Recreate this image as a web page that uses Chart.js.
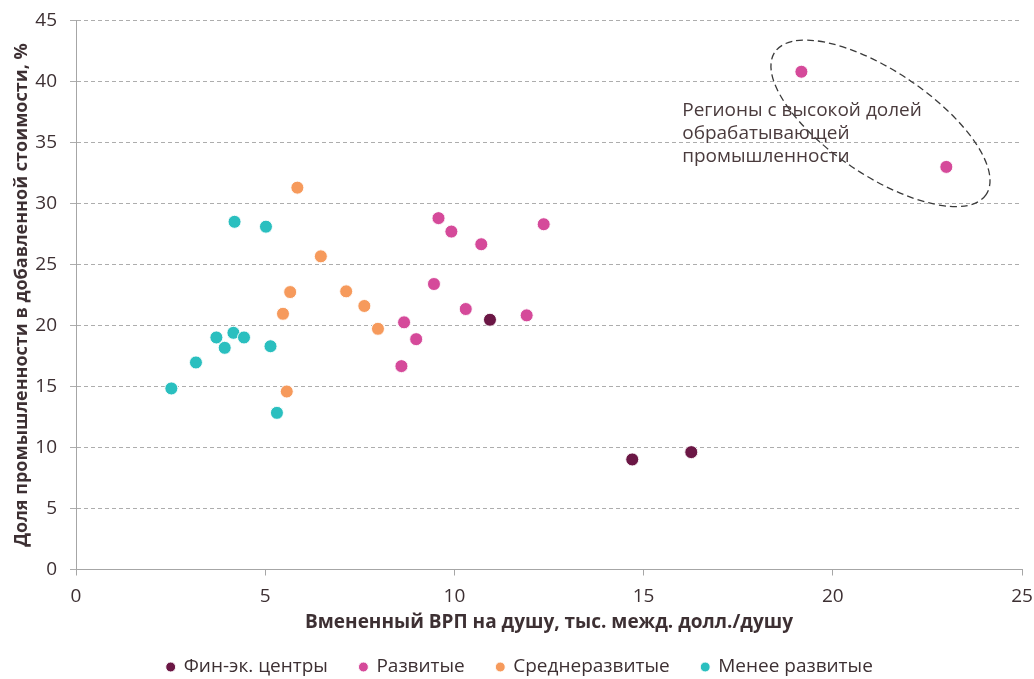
<!DOCTYPE html>
<html><head><meta charset="utf-8">
<script src="https://cdn.jsdelivr.net/npm/chart.js@4"></script>
<style>html,body{margin:0;padding:0;background:#fff}#wrap{width:1034px;height:679px;position:relative}</style>
</head><body><div id="wrap"><canvas id="c"></canvas></div>
<script>
// ---- data ----
const seriesNames = ['Фин-эк. центры', 'Развитые', 'Среднеразвитые', 'Менее развитые'];

const finX = [10.94, 14.70, 16.26];
const finY = [20.47, 9.02, 9.62];

const devX = [9.58, 9.92, 10.71, 12.36, 9.46, 10.30, 11.91, 8.67, 8.99, 8.60, 19.17, 23.00];
const devY = [28.8, 27.7, 26.66, 28.3, 23.4, 21.35, 20.83, 20.26, 18.88, 16.67, 40.8, 33.0];

const midX = [5.85, 6.47, 5.66, 7.14, 7.62, 5.47, 7.98, 5.57];
const midY = [31.3, 25.67, 22.74, 22.8, 21.6, 20.96, 19.73, 14.59];

const lessX = [4.19, 5.02, 3.71, 4.16, 4.44, 3.93, 5.14, 3.17, 2.52, 5.31];
const lessY = [28.5, 28.1, 19.02, 19.4, 19.02, 18.17, 18.3, 16.97, 14.84, 12.84];

const xTicks = [0, 5, 10, 15, 20, 25];
const yTicks = [0, 5, 10, 15, 20, 25, 30, 35, 40, 45];

const xTitle = 'Вмененный ВРП на душу, тыс. межд. долл./душу';
const yTitle = 'Доля промышленности в добавленной стоимости, %';
const annotationLines = ['Регионы с высокой долей', 'обрабатывающей', 'промышленности'];

// ---- styles ----
const colors = ['#6b1745', '#d54a9a', '#f69a5c', '#2abfbf'];
const textColor = '#3d3033';
Chart.defaults.font.family = '"Open Sans", "Noto Sans", sans-serif';

const toPts = (xs, ys) => xs.map((v, i) => ({x: v, y: ys[i]}));
const seriesData = [toPts(finX, finY), toPts(devX, devY), toPts(midX, midY), toPts(lessX, lessY)];

const annot = {
  id: 'annot',
  afterDatasetsDraw(chart) {
    const {ctx, scales: {x, y}} = chart;
    const cx = x.getPixelForValue(21.26), cy = y.getPixelForValue(36.57);
    ctx.save();
    ctx.beginPath();
    ctx.ellipse(cx, cy, 127.4, 52, 34 * Math.PI / 180, 0, 2 * Math.PI);
    ctx.setLineDash([7, 4]);
    ctx.lineWidth = 1.3;
    ctx.strokeStyle = '#3a3a3a';
    ctx.stroke();
    ctx.setLineDash([]);
    ctx.font = '19px "Open Sans"';
    ctx.fillStyle = '#4a3b3d';
    ctx.textBaseline = 'alphabetic';
    ctx.textAlign = 'left';
    const tx = x.getPixelForValue(16.02), ty = y.getPixelForValue(37.2);
    annotationLines.forEach((l, i) => ctx.fillText(l, tx, ty + i * 23));
    ctx.restore();
  }
};

new Chart(document.getElementById('c'), {
  type: 'scatter',
  data: {
    datasets: seriesNames.map((n, i) => ({
      label: n,
      data: seriesData[i],
      backgroundColor: colors[i],
      borderColor: 'rgba(255,255,255,0.9)',
      borderWidth: 1,
      pointRadius: 6.5,
      pointHoverRadius: 6.5
    }))
  },
  options: {
    responsive: true,
    maintainAspectRatio: false,
    animation: false,
    layout: {padding: {left: 18, right: 12, top: 20.5, bottom: 0}},
    plugins: {
      legend: {
        position: 'bottom',
        maxHeight: 53.5,
        labels: {
          usePointStyle: true, pointStyle: 'circle',
          boxWidth: 7, boxHeight: 7, padding: 32,
          color: textColor, font: {size: 19}
        }
      },
      tooltip: {enabled: false}
    },
    scales: {
      x: {
        type: 'linear', min: 0, max: 25,
        afterFit(s) { s.height = 56; s.paddingLeft = 0; s.paddingRight = 0; },
        afterBuildTicks(s) { s.ticks = xTicks.map(v => ({value: v})); },
        grid: {drawOnChartArea: false, drawTicks: true, tickLength: 6, color: '#a6a6a6'},
        border: {color: '#a6a6a6', width: 1},
        ticks: {padding: 10, color: textColor, font: {size: 19}},
        title: {display: true, text: xTitle, color: textColor, font: {size: 19, weight: 'bold'}, padding: {top: 0, bottom: -8}}
      },
      y: {
        type: 'linear', min: 0, max: 45,
        afterFit(s) { s.width = 58; s.paddingTop = 0; s.paddingBottom = 0; },
        afterBuildTicks(s) { s.ticks = yTicks.map(v => ({value: v})); },
        grid: {color: '#adadad', tickLength: 6, lineWidth: 1},
        border: {color: '#a6a6a6', width: 1, dash: [4, 3]},
        ticks: {padding: 13, color: textColor, font: {size: 19}},
        title: {display: true, text: yTitle, color: textColor, font: {size: 18, weight: 'bold'}, padding: {top: -7, bottom: 0}}
      }
    }
  },
  plugins: [annot]
});
</script>
</body></html>
